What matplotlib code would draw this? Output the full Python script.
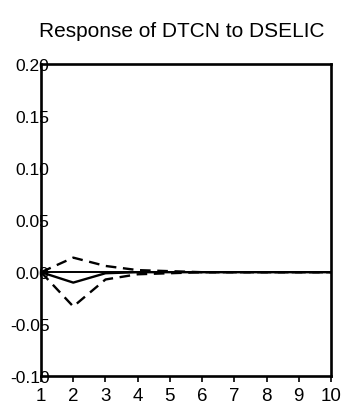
"""Impulse response of DTCN to a DSELIC shock, with +/- 2 S.E. bands."""

import matplotlib

matplotlib.use("Agg")
import matplotlib.pyplot as plt

periods = [1, 2, 3, 4, 5, 6, 7, 8, 9, 10]
response = [0.0, -0.010, -0.001, 0.0, 0.0, 0.0, 0.0, 0.0, 0.0, 0.0]
upper_band = [0.0, 0.014, 0.006, 0.002, 0.001, 0.0, 0.0, 0.0, 0.0, 0.0]
lower_band = [0.0, -0.033, -0.007, -0.002, -0.001, 0.0, 0.0, 0.0, 0.0, 0.0]

y_ticks = [-0.10, -0.05, 0.00, 0.05, 0.10, 0.15, 0.20]
y_labels = ["-0.10", "-0.05", "0.00", "0.05", "0.10", "0.15", "0.20"]

plt.rcParams["font.family"] = ["Liberation Sans", "DejaVu Sans"]

fig = plt.figure(figsize=(3.48, 4.10), dpi=100)
ax = fig.add_axes([0.118, 0.080, 0.833, 0.761])

ax.axhline(0.0, color="black", lw=1.4)
ax.plot(periods, response, color="black", lw=1.7)
ax.plot(periods, upper_band, color="black", lw=1.7, ls=(0, (4.5, 2.8)))
ax.plot(periods, lower_band, color="black", lw=1.7, ls=(0, (4.5, 2.8)))

ax.set_xlim(1, 10)
ax.set_ylim(-0.10, 0.20)
ax.set_xticks(periods)
ax.set_xticklabels([str(p) for p in periods], fontsize=13.5)
ax.set_yticks(y_ticks)
ax.set_yticklabels(y_labels, fontsize=12.5)
ax.tick_params(axis="y", length=0, pad=-6)
ax.tick_params(axis="x", length=4, width=1.2, pad=4)
for side in ax.spines.values():
    side.set_linewidth(1.9)

fig.text(0.523, 0.923, "Response of DTCN to DSELIC", ha="center", va="center",
         fontsize=15)

fig.savefig("out.png", dpi=100)
